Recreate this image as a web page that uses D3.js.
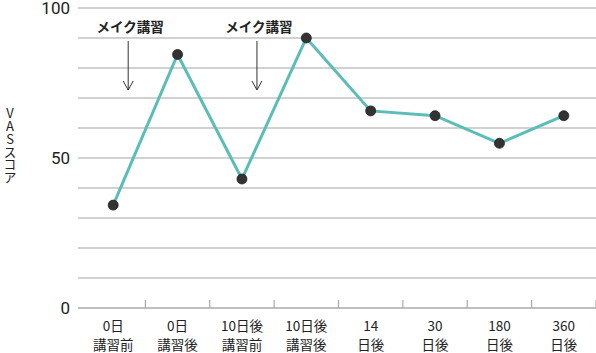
<!DOCTYPE html>
<html>
<head>
<meta charset="utf-8">
<script src="https://cdn.jsdelivr.net/npm/d3@7"></script>
<style>
  body { margin: 0; background: #fff; }
  text { font-family: "Noto Sans CJK JP", "Noto Sans", sans-serif; fill: #222; }
</style>
</head>
<body>
<div id="chart"></div>
<script>
// data
const categories = ["0日前", "0日後", "10日後前", "10日後後", "14日後", "30日後", "180日後", "360日後"];
const labelLine1 = ["0日", "0日", "10日後", "10日後", "14", "30", "180", "360"];
const labelLine2 = ["講習前", "講習後", "講習前", "講習後", "日後", "日後", "日後", "日後"];
const vasValues = [34.3, 84.5, 43, 90, 65.7, 64.1, 54.9, 64.1];
const yTicks = [0, 50, 100];
const gridValues = [0, 10, 20, 30, 40, 50, 60, 70, 80, 90, 100];
const notes = [
    {cat: "0日前", text: "メイク講習"},
    {cat: "10日後前", text: "メイク講習"}
];

function main() {
    const W = 596, H = 353;
    const left = 81, right = 596, top = 8, bottom = 308;

    const svg = d3.select("#chart")
        .append("svg")
        .attr("width", W)
        .attr("height", H);

    const x = d3.scaleBand()
        .domain(categories)
        .range([left, right]);

    const y = d3.scaleLinear()
        .domain([0, 100])
        .range([bottom, top]);

    // grid lines
    svg.append("g")
        .selectAll("line")
        .data(gridValues.filter(d => d > 0))
        .enter()
        .append("line")
        .attr("x1", 78)
        .attr("x2", right)
        .attr("y1", d => y(d))
        .attr("y2", d => y(d))
        .attr("stroke", "#c2c2c2")
        .attr("stroke-width", 1.5);

    // x axis line + ticks
    svg.append("line")
        .attr("x1", 78).attr("x2", right)
        .attr("y1", bottom).attr("y2", bottom)
        .attr("stroke", "#aaa")
        .attr("stroke-width", 1.3);

    svg.append("g")
        .selectAll("line")
        .data(categories)
        .enter()
        .append("line")
        .attr("x1", d => x(d) + x.bandwidth())
        .attr("x2", d => x(d) + x.bandwidth())
        .attr("y1", bottom - 8)
        .attr("y2", bottom)
        .attr("stroke", "#aaa")
        .attr("stroke-width", 1.2);

    // y tick labels
    svg.append("g")
        .selectAll("text")
        .data(yTicks)
        .enter()
        .append("text")
        .attr("x", 70)
        .attr("y", d => y(d))
        .attr("dy", "0.36em")
        .attr("text-anchor", "end")
        .style("font-family", "Roboto, 'Noto Sans', sans-serif")
        .style("font-size", "17px")
        .text(d => d);

    // x labels
    const xl = svg.append("g")
        .selectAll("text")
        .data(categories)
        .enter()
        .append("text")
        .attr("text-anchor", "middle")
        .style("font-size", "13.5px");
    xl.append("tspan")
        .attr("x", d => x(d) + x.bandwidth() / 2)
        .attr("y", 331)
        .text((d, i) => labelLine1[i]);
    xl.append("tspan")
        .attr("x", d => x(d) + x.bandwidth() / 2)
        .attr("y", 350)
        .text((d, i) => labelLine2[i]);

    // y axis title, written vertically with upright characters
    svg.append("text")
        .attr("x", 10)
        .attr("y", 107)
        .style("writing-mode", "vertical-rl")
        .style("text-orientation", "upright")
        .style("font-size", "13px")
        .style("letter-spacing", "-0.3px")
        .text("VASスコア");

    // annotations
    notes.forEach(n => {
        const cx = x(n.cat) + x.bandwidth() / 2 + 15;
        svg.append("text")
            .attr("x", cx + 2)
            .attr("y", 32)
            .attr("text-anchor", "middle")
            .style("font-size", "13.5px")
            .style("font-weight", "bold")
            .text(n.text);
        svg.append("line")
            .attr("x1", cx).attr("x2", cx)
            .attr("y1", 41).attr("y2", 90)
            .attr("stroke", "#333")
            .attr("stroke-width", 1);
        svg.append("path")
            .attr("d", `M${cx - 5},${81} L${cx},${90} L${cx + 5},${81}`)
            .attr("fill", "none")
            .attr("stroke", "#333")
            .attr("stroke-width", 1);
    });

    // line
    const line = d3.line()
        .x((d, i) => x(categories[i]) + x.bandwidth() / 2)
        .y(d => y(d));

    svg.append("path")
        .datum(vasValues)
        .attr("d", line)
        .attr("fill", "none")
        .attr("stroke", "#5bbdb8")
        .attr("stroke-width", 3);

    // dots
    svg.append("g")
        .selectAll("circle")
        .data(vasValues)
        .enter()
        .append("circle")
        .attr("cx", (d, i) => x(categories[i]) + x.bandwidth() / 2)
        .attr("cy", d => y(d))
        .attr("r", 5)
        .attr("fill", "#333")
        .attr("stroke", "#222")
        .attr("stroke-width", 0.8);
}

main()
</script>
</body>
</html>
